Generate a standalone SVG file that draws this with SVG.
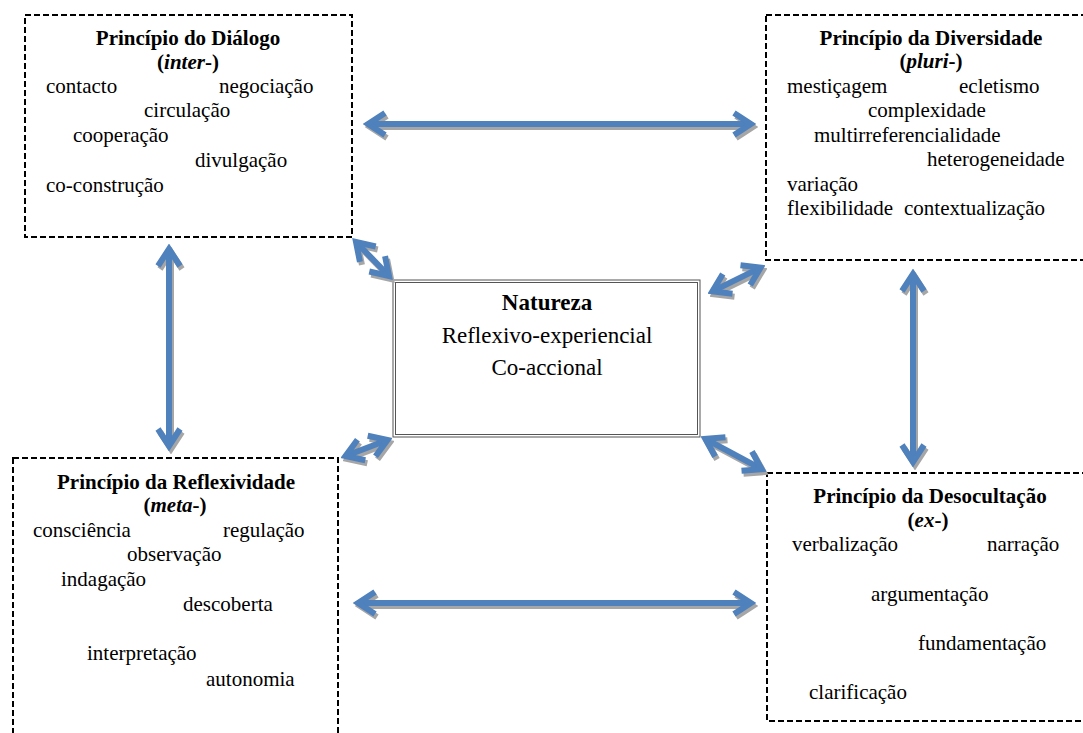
<svg xmlns="http://www.w3.org/2000/svg" width="1083" height="733" viewBox="0 0 1083 733" font-family="Liberation Serif, DejaVu Serif, Times New Roman, serif">
<style>
.box{fill:#fff;stroke:#000;stroke-width:2;stroke-dasharray:6 3}
text{font-family:'Liberation Serif','DejaVu Serif','Times New Roman',serif;font-size:21px;fill:#000}
.h{font-weight:bold;text-anchor:middle}
.c{font-size:23px;text-anchor:middle}
.arr{fill:none;stroke:#4F81BD;stroke-width:6;marker-start:url(#ah);marker-end:url(#ah)}
.sh{fill:none;stroke:#A6A6A6;stroke-width:6;marker-start:url(#ahs);marker-end:url(#ahs)}
</style>
<defs>
<marker id="ah" viewBox="-25 -15 30 30" refX="0" refY="0" markerWidth="30" markerHeight="30" markerUnits="userSpaceOnUse" orient="auto-start-reverse">
<path d="M-17,-11 L0,0 L-17,11" fill="none" stroke="#4F81BD" stroke-width="6"/>
</marker>
<marker id="ahs" viewBox="-25 -15 30 30" refX="0" refY="0" markerWidth="30" markerHeight="30" markerUnits="userSpaceOnUse" orient="auto-start-reverse">
<path d="M-17,-11 L0,0 L-17,11" fill="none" stroke="#A6A6A6" stroke-width="6"/>
</marker>
</defs>
<rect width="1083" height="733" fill="#fff"/>

<g id="n-dialogo">
<rect class="box" x="25" y="15" width="327" height="222"/>
<text class="h" x="188" y="45">Princípio do Diálogo</text>
<text class="h" x="188" y="69">(<tspan font-style="italic">inter</tspan>-)</text>
<text x="46" y="93">contacto</text>
<text x="219" y="93">negociação</text>
<text x="144" y="117">circulação</text>
<text x="73" y="142">cooperação</text>
<text x="195" y="167">divulgação</text>
<text x="46" y="192">co-construção</text>
</g>

<g id="n-diversidade">
<rect class="box" x="766" y="15" width="330" height="245"/>
<text class="h" x="931" y="45">Princípio da Diversidade</text>
<text class="h" x="931" y="68">(<tspan font-style="italic">pluri</tspan>-)</text>
<text x="787" y="93">mestiçagem</text>
<text x="959" y="93">ecletismo</text>
<text x="868" y="117">complexidade</text>
<text x="814" y="142">multirreferencialidade</text>
<text x="927" y="166">heterogeneidade</text>
<text x="787" y="191">variação</text>
<text x="787" y="215">flexibilidade</text>
<text x="904" y="215">contextualização</text>
</g>

<g id="n-natureza">
<rect x="393" y="280" width="307" height="157" fill="#fff" stroke="#555" stroke-width="1"/>
<rect x="395.5" y="282.5" width="302" height="152" fill="none" stroke="#555" stroke-width="1"/>
<text class="c" x="547" y="310" font-weight="bold">Natureza</text>
<text class="c" x="547" y="343">Reflexivo-experiencial</text>
<text class="c" x="547" y="375">Co-accional</text>
</g>

<g id="n-reflexividade">
<rect class="box" x="13" y="458" width="325" height="290"/>
<text class="h" x="176" y="489">Princípio da Reflexividade</text>
<text class="h" x="175" y="512">(<tspan font-style="italic">meta</tspan>-)</text>
<text x="33" y="537">consciência</text>
<text x="223" y="537">regulação</text>
<text x="127" y="561">observação</text>
<text x="61" y="586">indagação</text>
<text x="183" y="611">descoberta</text>
<text x="87" y="660">interpretação</text>
<text x="206" y="686">autonomia</text>
</g>

<g id="n-desocultacao">
<rect class="box" x="767" y="473" width="330" height="248"/>
<text class="h" x="930" y="503">Princípio da Desocultação</text>
<text class="h" x="928" y="527">(<tspan font-style="italic">ex</tspan>-)</text>
<text x="792" y="551">verbalização</text>
<text x="987" y="551">narração</text>
<text x="871" y="601">argumentação</text>
<text x="918" y="650">fundamentação</text>
<text x="809" y="699">clarificação</text>
</g>

<g id="connectors">
<g transform="translate(2,3)">
<path class="sh" d="M368,124 L751,124"/>
<path class="sh" d="M358,603 L751,603"/>
<path class="sh" d="M169,249 L169,446"/>
<path class="sh" d="M913,274 L913,462"/>
<path class="sh" d="M356,242 L389,276"/>
<path class="sh" d="M712.4,291.4 L760.6,267.6"/>
<path class="sh" d="M387.5,440 L345.5,456"/>
<path class="sh" d="M705.3,438.8 L761.7,469.2"/>
</g>
<path class="arr" d="M368,124 L751,124"/>
<path class="arr" d="M358,603 L751,603"/>
<path class="arr" d="M169,249 L169,446"/>
<path class="arr" d="M913,274 L913,462"/>
<path class="arr" d="M356,242 L389,276"/>
<path class="arr" d="M712.4,291.4 L760.6,267.6"/>
<path class="arr" d="M387.5,440 L345.5,456"/>
<path class="arr" d="M705.3,438.8 L761.7,469.2"/>
</g>
</svg>
